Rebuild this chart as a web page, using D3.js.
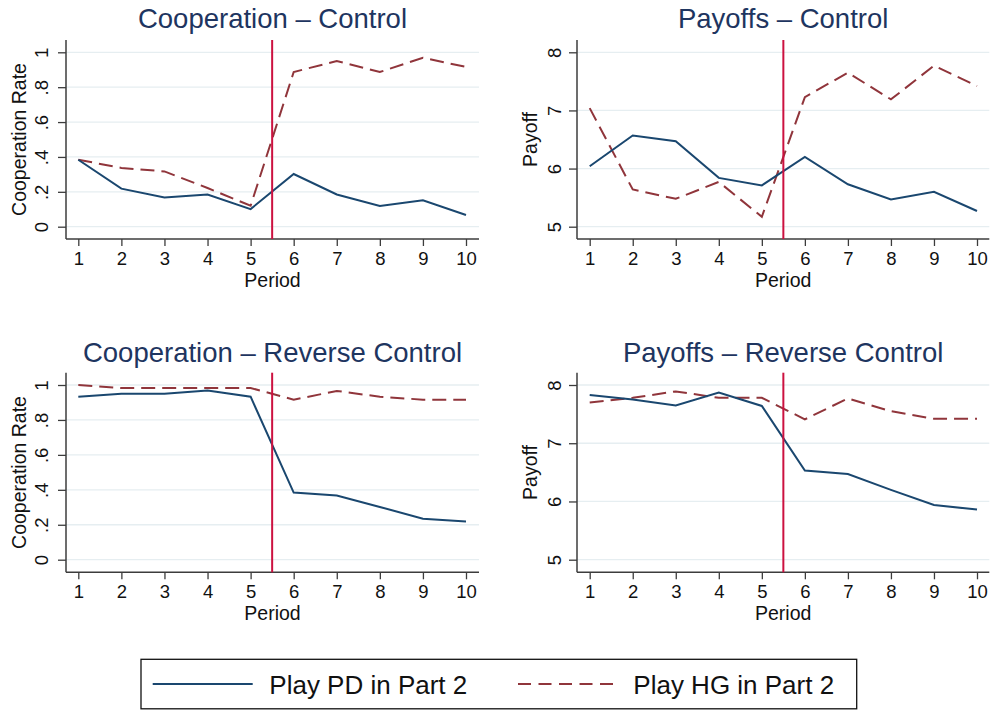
<!DOCTYPE html>
<html>
<head>
<meta charset="utf-8">
<script src="https://cdn.jsdelivr.net/npm/d3@7"></script>
<style>
  body { margin: 0; background: #fff; }
  svg { display: block; font-family: "Liberation Sans", Arial, sans-serif; }
</style>
</head>
<body>
<div id="chart"></div>
<script>
// periods on the x axis
var periods = [1, 2, 3, 4, 5, 6, 7, 8, 9, 10];

// series
var coopControlPD = [0.384, 0.218, 0.168, 0.185, 0.101, 0.302, 0.185, 0.119, 0.151, 0.067];
var coopControlHG = [0.384, 0.337, 0.317, 0.222, 0.12, 0.887, 0.950, 0.887, 0.969, 0.916];
var payControlPD = [6.04, 6.57, 6.47, 5.84, 5.71, 6.20, 5.73, 5.47, 5.60, 5.27];
var payControlHG = [7.04, 5.64, 5.48, 5.77, 5.17, 7.23, 7.65, 7.19, 7.77, 7.42];
var coopReversePD = [0.933, 0.950, 0.950, 0.968, 0.933, 0.384, 0.368, 0.302, 0.235, 0.218];
var coopReverseHG = [1.0, 0.983, 0.983, 0.983, 0.983, 0.916, 0.966, 0.933, 0.916, 0.916];
var payReversePD = [7.83, 7.75, 7.65, 7.87, 7.64, 6.53, 6.47, 6.20, 5.94, 5.86];
var payReverseHG = [7.70, 7.78, 7.89, 7.78, 7.78, 7.41, 7.77, 7.55, 7.42, 7.42];

var coopTicks = [0, 0.2, 0.4, 0.6, 0.8, 1];
var coopTickLabels = ["0", ".2", ".4", ".6", ".8", "1"];
var payTicks = [5, 6, 7, 8];
var payTickLabels = ["5", "6", "7", "8"];

var titles = ["Cooperation \u2013 Control", "Payoffs \u2013 Control",
              "Cooperation \u2013 Reverse Control", "Payoffs \u2013 Reverse Control"];
var legendLabels = ["Play PD in Part 2", "Play HG in Part 2"];
var switchPeriod = 5.5;

var navy = "#1a476f", maroon = "#90353b", red = "#cc1140";

var W = 992, H = 711;
var svg = d3.select("#chart").append("svg").attr("width", W).attr("height", H);

// panel geometry (pixels)
var cols = [
    {axisX: 66, x1: 78.3, x10: 466, right: 479},
    {axisX: 577, x1: 589.7, x10: 977, right: 989.3}
];
var rows = [
    {top: 40, yHi: 52.3, yLo: 226.7, bottom: 239, titleY: 28.3},
    {top: 372.7, yHi: 385, yLo: 559.7, bottom: 572.3, titleY: 361.7}
];

var panels = [
    {col: 0, row: 0, title: titles[0], pd: coopControlPD, hg: coopControlHG,
     dom: [0, 1], ticks: coopTicks, labels: coopTickLabels, ytitle: "Cooperation Rate", ytX: 19.3, ylX: 41.7},
    {col: 1, row: 0, title: titles[1], pd: payControlPD, hg: payControlHG,
     dom: [5, 8], ticks: payTicks, labels: payTickLabels, ytitle: "Payoff", ytX: 530.3, ylX: 554.3},
    {col: 0, row: 1, title: titles[2], pd: coopReversePD, hg: coopReverseHG,
     dom: [0, 1], ticks: coopTicks, labels: coopTickLabels, ytitle: "Cooperation Rate", ytX: 19.3, ylX: 41.7},
    {col: 1, row: 1, title: titles[3], pd: payReversePD, hg: payReverseHG,
     dom: [5, 8], ticks: payTicks, labels: payTickLabels, ytitle: "Payoff", ytX: 530.3, ylX: 554.3}
];

function drawPanel(p)
{
    var c = cols[p.col], r = rows[p.row];
    var x = d3.scaleLinear().domain([1, 10]).range([c.x1, c.x10]);
    var y = d3.scaleLinear().domain(p.dom).range([r.yLo, r.yHi]);
    var g = svg.append("g");

    // gridlines
    g.append("g").selectAll("line")
        .data(p.ticks)
        .enter().append("line")
        .attr("x1", c.axisX).attr("x2", c.right)
        .attr("y1", d => y(d)).attr("y2", d => y(d))
        .attr("stroke", "#e6eef1").attr("stroke-width", 1.3);

    // y axis
    var yAxis = d3.axisLeft(y).tickValues(p.ticks)
        .tickFormat((d, i) => p.labels[i]).tickSize(8).tickSizeOuter(0);
    var yg = g.append("g").attr("transform", "translate(" + c.axisX + ",0)").call(yAxis);
    yg.select(".domain").remove();
    yg.selectAll(".tick line").attr("stroke", "#3c3c3c").attr("stroke-width", 1.3);
    yg.selectAll(".tick text")
        .attr("x", null).attr("dy", "0.36em")
        .attr("transform", "translate(" + (p.ylX - c.axisX) + ",0) rotate(-90)")
        .attr("text-anchor", "middle")
        .attr("font-size", 18.5).attr("font-family", null).attr("fill", "#111");
    g.append("line")
        .attr("x1", c.axisX).attr("x2", c.axisX)
        .attr("y1", r.top).attr("y2", r.bottom)
        .attr("stroke", "#3c3c3c").attr("stroke-width", 1.5);

    // x axis
    var xAxis = d3.axisBottom(x).tickValues(periods).tickSize(7).tickSizeOuter(0).tickPadding(6);
    var xg = g.append("g").attr("transform", "translate(0," + r.bottom + ")").call(xAxis);
    xg.select(".domain").remove();
    xg.selectAll(".tick line").attr("stroke", "#3c3c3c").attr("stroke-width", 1.3);
    xg.selectAll(".tick text").attr("font-size", 18.5).attr("font-family", null).attr("fill", "#111");
    g.append("line")
        .attr("x1", c.axisX).attr("x2", c.right)
        .attr("y1", r.bottom).attr("y2", r.bottom)
        .attr("stroke", "#3c3c3c").attr("stroke-width", 1.5);

    // axis titles
    g.append("text")
        .attr("x", (c.axisX + c.right) / 2).attr("y", r.bottom + 47.7)
        .attr("text-anchor", "middle").attr("font-size", 19.5).attr("fill", "#111")
        .text("Period");
    g.append("text")
        .attr("transform", "translate(" + p.ytX + "," + (r.top + r.bottom) / 2 + ") rotate(-90)")
        .attr("dy", "0.36em")
        .attr("text-anchor", "middle").attr("font-size", 19.5).attr("fill", "#111")
        .text(p.ytitle);

    // panel title
    g.append("text")
        .attr("x", (c.axisX + c.right) / 2).attr("y", r.titleY)
        .attr("text-anchor", "middle").attr("font-size", 27.5).attr("fill", "#1e3560")
        .text(p.title);

    var line = d3.line().x((d, i) => x(periods[i])).y(d => y(d));

    g.append("path").datum(p.hg)
        .attr("d", line).attr("fill", "none")
        .attr("stroke", maroon).attr("stroke-width", 2)
        .attr("stroke-dasharray", "14,7");
    g.append("path").datum(p.pd)
        .attr("d", line).attr("fill", "none")
        .attr("stroke", navy).attr("stroke-width", 2);

    // switch between parts
    g.append("line")
        .attr("x1", x(switchPeriod)).attr("x2", x(switchPeriod))
        .attr("y1", r.top).attr("y2", r.bottom)
        .attr("stroke", red).attr("stroke-width", 2);
}

panels.forEach(drawPanel);

// legend
var leg = svg.append("g");
leg.append("rect")
    .attr("x", 141).attr("y", 659.3).attr("width", 715.7).attr("height", 49.5)
    .attr("fill", "#fff").attr("stroke", "#111").attr("stroke-width", 1.3);
var legItems = [
    {label: legendLabels[0], color: navy, dash: null, x0: 152.7, x1: 252.7, tx: 269.3},
    {label: legendLabels[1], color: maroon, dash: "13,7.5", x0: 518, x1: 617, tx: 633.3}
];
legItems.forEach(function(it) {
    leg.append("line")
        .attr("x1", it.x0).attr("x2", it.x1).attr("y1", 684).attr("y2", 684)
        .attr("stroke", it.color).attr("stroke-width", 2)
        .attr("stroke-dasharray", it.dash);
    leg.append("text")
        .attr("x", it.tx).attr("y", 694.3)
        .attr("font-size", 26).attr("fill", "#111")
        .text(it.label);
});
</script>
</body>
</html>
